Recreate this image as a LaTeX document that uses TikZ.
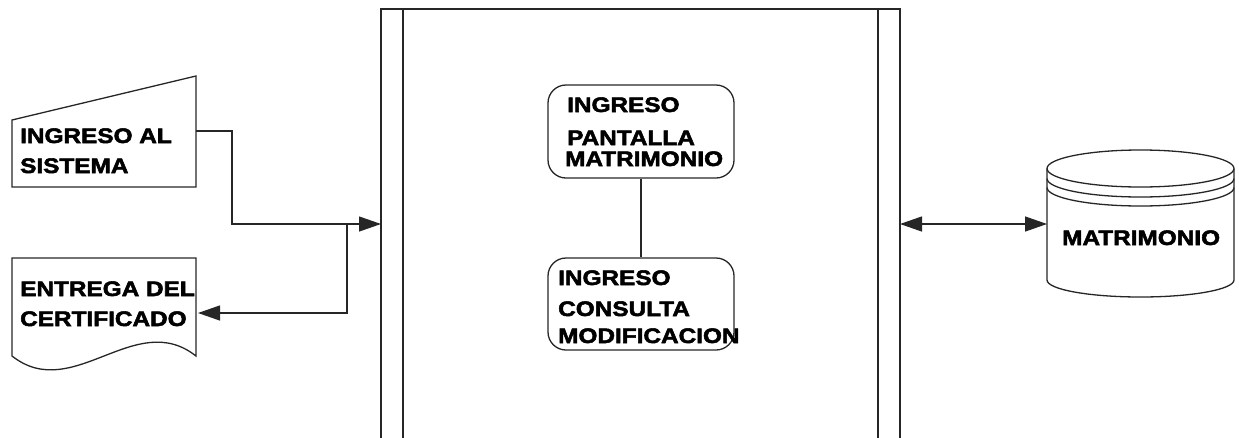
\documentclass[tikz,border=0pt]{standalone}
\usepackage{fontspec}
\usetikzlibrary{arrows.meta}
\newfontfamily\dfont[FakeStretch=1.16,FakeBold=2.5]{Liberation Sans Bold}
\tikzset{
  lbl/.style={font=\dfont\fontsize{21}{30}\selectfont, inner sep=0pt, anchor=base west},
  proc/.style={draw, line width=1.3pt, black!85, rounded corners=18pt, inner sep=0pt},
  ln/.style={line width=1.3pt, black!85},
  arr/.style={ln, -{Triangle[length=22pt,width=15pt]}},
  arrb/.style={ln, {Triangle[length=22pt,width=15pt]}-{Triangle[length=22pt,width=15pt]}},
}
\begin{document}
\begin{tikzpicture}[x=1pt,y=-1pt]
\useasboundingbox (0,0) rectangle (1239,437);
% system box
\draw[ln] (381,445) -- (381,9) -- (900,9) -- (900,445);
\draw[ln] (403,9) -- (403,445);
\draw[ln] (878,9) -- (878,445);
\coordinate (sysL) at (381,224);
\coordinate (sysR) at (900,224);
% manual input
\draw[ln] (12,120) -- (196,76) -- (196,187) -- (12,187) -- cycle;
\coordinate (miR) at (196,131);
\node[lbl] (mi1) at (20,143) {INGRESO AL};
\node[lbl] (mi2) at (20,173) {SISTEMA};
% document
\draw[ln] (12,356) -- (12,258) -- (196,258) -- (196,356)
  .. controls (135,308) and (73,404) .. (12,356) -- cycle;
\coordinate (docR) at (198,313);
\node[lbl] (doc1) at (20,296) {ENTREGA DEL};
\node[lbl] (doc2) at (20,326) {CERTIFICADO};
% process boxes
\node[proc, minimum width=186pt, minimum height=93pt] (p1) at (641,131.5) {};
\node[proc, minimum width=186pt, minimum height=92pt] (p2) at (641,304) {};
\draw[ln] (p1.south) -- (p2.north);
\node[lbl] (p1a) at (567,112) {INGRESO};
\node[lbl] (p1b) at (567,145) {PANTALLA};
\node[lbl] (p1c) at (565,166) {MATRIMONIO};
\node[lbl] (p2a) at (558,285) {INGRESO};
\node[lbl] (p2b) at (558,316) {CONSULTA};
\node[lbl] (p2c) at (558,343) {MODIFICACION};
% database cylinder
\draw[ln, fill=white] (1047,168.5) -- (1047,280)
  arc[start angle=180, end angle=0, x radius=93.5, y radius=17] -- (1234,168.5);
\draw[ln] (1140.5,168.5) ellipse [x radius=93.5, y radius=18.5];
\draw[ln] (1047,178.5) arc[start angle=180, end angle=0, x radius=93.5, y radius=18.5];
\draw[ln] (1047,187.5) arc[start angle=180, end angle=0, x radius=93.5, y radius=18.5];
\coordinate (dbL) at (1047,224);
\node[lbl] (db) at (1062,245) {MATRIMONIO};
% connectors
\coordinate (br) at (347,224);
\draw[arr] (miR) -- (232,131) -- (232,224) -- (sysL);
\draw[arr] (br) -- (347,313) -- (docR);
\draw[arrb] (sysR) -- (dbL);
\end{tikzpicture}
\end{document}
